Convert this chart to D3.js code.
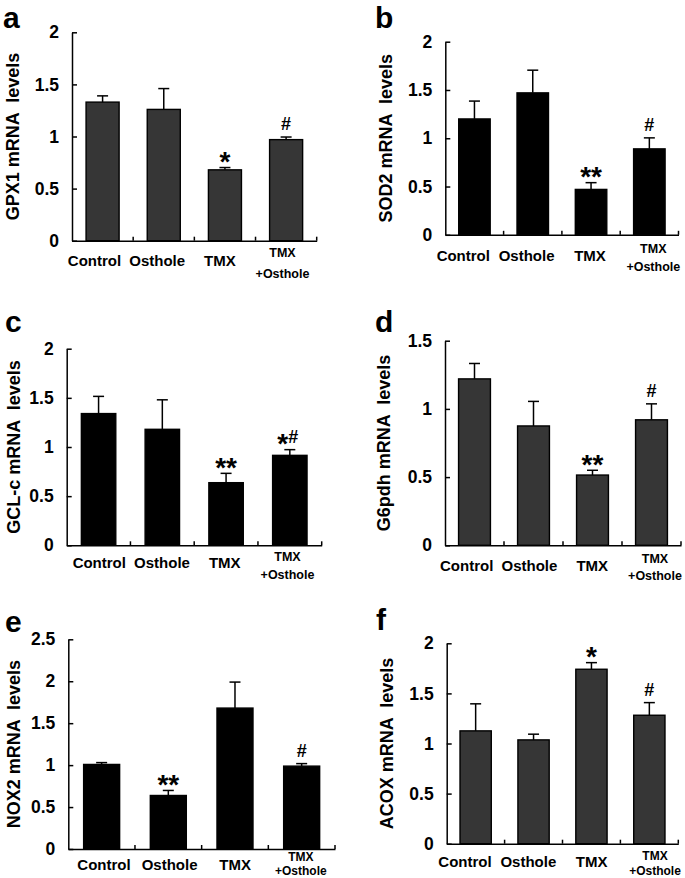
<!DOCTYPE html>
<html><head><meta charset="utf-8">
<script src="https://cdn.jsdelivr.net/npm/d3@7"></script>
<style>
body{margin:0;background:#fff}
svg{display:block}
text{font-family:"Liberation Sans",Arial,sans-serif;font-weight:bold;fill:#000}
</style>
</head><body><svg id="chart" width="685" height="878"></svg>
<script>
// ---------- data ----------
const categories = ["Control", "Osthole", "TMX", "TMX\n+Osthole"];

const gpx1 = [1.33, 1.26, 0.68, 0.97];
const gpx1Err = [0.06, 0.20, 0.022, 0.025];
const gpx1Marks = ["", "", "*", "#"];

const sod2 = [1.20, 1.47, 0.47, 0.89];
const sod2Err = [0.185, 0.235, 0.07, 0.114];
const sod2Marks = ["", "", "**", "#"];

const gclc = [1.34, 1.18, 0.637, 0.915];
const gclcErr = [0.175, 0.30, 0.095, 0.058];
const gclcMarks = ["", "", "**", "*#"];

const g6pdh = [1.22, 0.875, 0.515, 0.92];
const g6pdhErr = [0.113, 0.18, 0.035, 0.117];
const g6pdhMarks = ["", "", "**", "#"];

const nox2 = [1.008, 0.638, 1.68, 0.988];
const nox2Err = [0.022, 0.06, 0.31, 0.03];
const nox2Marks = ["", "**", "", "#"];

const acox = [1.126, 1.036, 1.741, 1.282];
const acoxErr = [0.27, 0.057, 0.066, 0.126];
const acoxMarks = ["", "", "*", "#"];

const yTicks2 = [0, 0.5, 1, 1.5, 2];
const yTicks15 = [0, 0.5, 1, 1.5];
const yTicks25 = [0, 0.5, 1, 1.5, 2, 2.5];

// ---------- panel layout ----------
const panels = [
  {letter:"a", title:"GPX1 mRNA  levels", vals:gpx1, err:gpx1Err, marks:gpx1Marks, ticks:yTicks2, max:2, fill:"#363636",
   x0:72, x1:316.7, yTop:32.3, yBot:240.7, titleX:19, lx:3, ly:27.5, lab:[94.5,282.5], dy:[25,16.6,37], sub:12.5},
  {letter:"b", title:"SOD2 mRNA  levels", vals:sod2, err:sod2Err, marks:sod2Marks, ticks:yTicks2, max:2, fill:"#000",
   x0:445.3, x1:678.5, yTop:41.7, yBot:234.8, titleX:391.5, lx:375, ly:27.5, lab:[463.3,653.3], dy:[25.7,18.5,35.7], sub:12.5},
  {letter:"c", title:"GCL-c mRNA  levels", vals:gclc, err:gclcErr, marks:gclcMarks, ticks:yTicks2, max:2, fill:"#000",
   x0:66.7, x1:321.7, yTop:348.7, yBot:545.3, titleX:20, lx:5, ly:332, lab:[99.3,287.5], dy:[23,15.4,34], sub:12.5},
  {letter:"d", title:"G6pdh mRNA  levels", vals:g6pdh, err:g6pdhErr, marks:g6pdhMarks, ticks:yTicks15, max:1.5, fill:"#363636",
   x0:445, x1:681, yTop:340.7, yBot:545.3, titleX:390, lx:375, ly:331.7, lab:[466.7,655], dy:[26,18,34.5], sub:12.5},
  {letter:"e", title:"NOX2 mRNA  levels", vals:nox2, err:nox2Err, marks:nox2Marks, ticks:yTicks25, max:2.5, fill:"#000",
   x0:68.3, x1:335, yTop:639.3, yBot:849, titleX:20, lx:5, ly:632, lab:[104,300.8], dy:[21,12,26.3], sub:12},
  {letter:"f", title:"ACOX mRNA  levels", vals:acox, err:acoxErr, marks:acoxMarks, ticks:yTicks2, max:2, fill:"#363636",
   x0:446.7, x1:678.3, yTop:643.3, yBot:843.7, titleX:393, lx:376, ly:630, lab:[465,655], dy:[23.4,16.2,31.5], sub:12}
];

const svg = d3.select("#chart");

panels.forEach(p => {
  const g = svg.append("g");
  const x = d3.scaleBand().domain(categories).range([p.x0, p.x1]).paddingInner(0.46).paddingOuter(0.23);
  const y = d3.scaleLinear().domain([0, p.max]).range([p.yBot, p.yTop]);
  const lx = d3.scalePoint().domain(categories).range(p.lab);

  // bars
  g.selectAll("rect.bar").data(categories).join("rect")
    .attr("x", d => x(d)).attr("width", x.bandwidth())
    .attr("y", (d,i) => y(p.vals[i])).attr("height", (d,i) => y(0) - y(p.vals[i]))
    .attr("fill", p.fill).attr("stroke", "#000").attr("stroke-width", 1.4);

  // error bars (upper)
  categories.forEach((c,i) => {
    const cx = x(c) + x.bandwidth()/2;
    const top = y(p.vals[i] + p.err[i]);
    g.append("line").attr("x1", cx).attr("x2", cx).attr("y1", y(p.vals[i])).attr("y2", top)
      .attr("stroke", "#000").attr("stroke-width", 1.5);
    g.append("line").attr("x1", cx-5.5).attr("x2", cx+5.5).attr("y1", top).attr("y2", top)
      .attr("stroke", "#000").attr("stroke-width", 1.5);
    const mark = p.marks[i];
    if (mark) {
      const t = g.append("text").attr("x", cx - (mark === "*#" ? 2 : 0)).attr("y", top - 7).attr("text-anchor", "middle");
      let cur = 0;
      for (const ch of mark) {
        const target = ch === "*" ? 10.3 : 0;
        t.append("tspan").attr("dy", target - cur)
          .style("font-size", ch === "*" ? "28px" : "18px").text(ch);
        cur = target;
      }
    }
  });

  // y axis
  const yAxis = d3.axisLeft(y).tickValues(p.ticks).tickFormat(d3.format("~g"))
    .tickSizeInner(-5).tickSizeOuter(0).tickPadding(13);
  const ya = g.append("g").attr("transform", `translate(${p.x0},0)`).call(yAxis);
  ya.select(".domain").attr("stroke-width", 1.5);
  ya.selectAll(".tick line").attr("stroke-width", 1.5);
  ya.selectAll(".tick text").attr("font-family", null).style("font-size", "17.5px").style("font-weight", "bold");

  // x axis
  const xAxis = d3.axisBottom(x).tickSize(0).tickFormat("");
  const xa = g.append("g").attr("transform", `translate(0,${p.yBot})`).call(xAxis);
  xa.select(".domain").attr("stroke-width", 1.5);
  xa.selectAll(".tick").remove();
  const step = (p.x1 - p.x0) / categories.length;
  d3.range(1, categories.length + 1).forEach(k => {
    g.append("line").attr("x1", p.x0 + k*step).attr("x2", p.x0 + k*step)
      .attr("y1", p.yBot).attr("y2", p.yBot - 4).attr("stroke", "#000").attr("stroke-width", 1.5);
  });

  // x labels
  categories.forEach(c => {
    const parts = c.split("\n");
    if (parts.length === 1) {
      g.append("text").attr("x", lx(c)).attr("y", p.yBot + p.dy[0]).attr("text-anchor", "middle")
        .style("font-size", "15px").text(c);
    } else {
      g.append("text").attr("x", lx(c)).attr("y", p.yBot + p.dy[1]).attr("text-anchor", "middle")
        .style("font-size", p.sub + "px").text(parts[0]);
      g.append("text").attr("x", lx(c)).attr("y", p.yBot + p.dy[2]).attr("text-anchor", "middle")
        .style("font-size", p.sub + "px").text(parts[1]);
    }
  });

  // y title
  g.append("text").attr("transform", `translate(${p.titleX},${(p.yTop + p.yBot)/2}) rotate(-90)`)
    .attr("text-anchor", "middle").style("font-size", "18px").style("white-space", "pre").text(p.title);

  // panel letter
  g.append("text").attr("x", p.lx).attr("y", p.ly).style("font-size", "30px").text(p.letter);
});
</script>
</body></html>
